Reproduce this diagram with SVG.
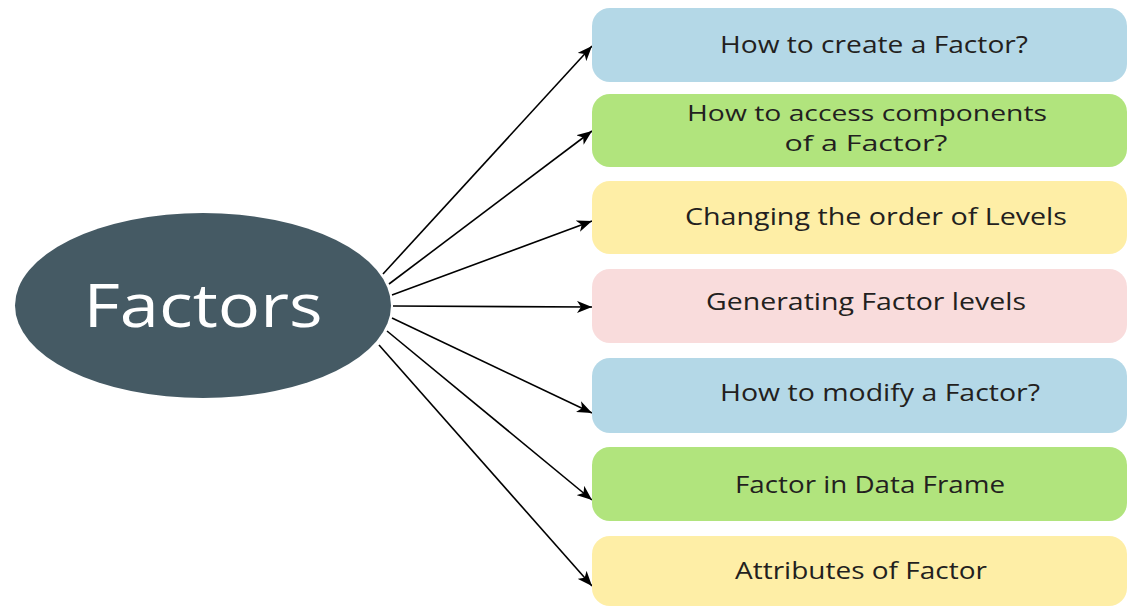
<svg xmlns="http://www.w3.org/2000/svg" width="1127" height="606" viewBox="0 0 1127 606">
  <style>
    .lbl { font-family: "Open Sans", "Liberation Sans", sans-serif; font-size: 24px; font-weight: 500; fill: #231f20; text-anchor: middle; }
    .lbl2 { font-size: 22px; }
    .title { font-family: "Open Sans", "Liberation Sans", sans-serif; font-size: 60px; fill: #ffffff; text-anchor: middle; }
    .conn { stroke: #000000; stroke-width: 1.6; fill: none; marker-end: url(#arrow); }
    .blue { fill: #b4d8e7; }
    .green { fill: #b1e47d; }
    .yellow { fill: #feeea6; }
    .pink { fill: #f9dcdc; }
  </style>
  <defs>
    <marker id="arrow" markerUnits="userSpaceOnUse" markerWidth="16" markerHeight="12" refX="15" refY="6" orient="auto">
      <path d="M0,0 L15,6 L0,12 L4,6 Z" fill="#000000"/>
    </marker>
  </defs>
  <rect width="1127" height="606" fill="#ffffff"/>

  <g id="factors">
    <ellipse cx="203" cy="305.5" rx="188" ry="92.5" fill="#455a64"/>
    <text class="title" x="203" y="327" textLength="239" lengthAdjust="spacingAndGlyphs">Factors</text>
  </g>

  <g id="connectors">
    <line class="conn" x1="383" y1="274" x2="592" y2="46"/>
    <line class="conn" x1="389" y1="284" x2="592" y2="131"/>
    <line class="conn" x1="392" y1="295" x2="592" y2="221"/>
    <line class="conn" x1="393" y1="306" x2="592" y2="307"/>
    <line class="conn" x1="392" y1="318" x2="592" y2="413"/>
    <line class="conn" x1="387" y1="331" x2="592" y2="500"/>
    <line class="conn" x1="379" y1="345" x2="592" y2="586"/>
  </g>

  <g id="node1">
    <rect class="blue" x="592" y="8" width="535" height="74" rx="18"/>
    <text class="lbl" x="874" y="53" textLength="308" lengthAdjust="spacingAndGlyphs">How to create a Factor?</text>
  </g>
  <g id="node2">
    <rect class="green" x="592" y="94" width="535" height="73" rx="18"/>
    <text class="lbl lbl2" x="867" y="121" textLength="360" lengthAdjust="spacingAndGlyphs">How to access components</text>
    <text class="lbl lbl2" x="866" y="151" textLength="163" lengthAdjust="spacingAndGlyphs">of a Factor?</text>
  </g>
  <g id="node3">
    <rect class="yellow" x="592" y="181" width="535" height="73" rx="18"/>
    <text class="lbl" x="876" y="225" textLength="382" lengthAdjust="spacingAndGlyphs">Changing the order of Levels</text>
  </g>
  <g id="node4">
    <rect class="pink" x="592" y="269" width="535" height="74" rx="18"/>
    <text class="lbl" x="866" y="310" textLength="320" lengthAdjust="spacingAndGlyphs">Generating Factor levels</text>
  </g>
  <g id="node5">
    <rect class="blue" x="592" y="358" width="535" height="75" rx="18"/>
    <text class="lbl" x="880" y="401" textLength="320" lengthAdjust="spacingAndGlyphs">How to modify a Factor?</text>
  </g>
  <g id="node6">
    <rect class="green" x="592" y="447" width="535" height="74" rx="18"/>
    <text class="lbl" x="870" y="493" textLength="270" lengthAdjust="spacingAndGlyphs">Factor in Data Frame</text>
  </g>
  <g id="node7">
    <rect class="yellow" x="592" y="536" width="535" height="70" rx="18"/>
    <text class="lbl" x="861" y="579" textLength="252" lengthAdjust="spacingAndGlyphs">Attributes of Factor</text>
  </g>
</svg>
